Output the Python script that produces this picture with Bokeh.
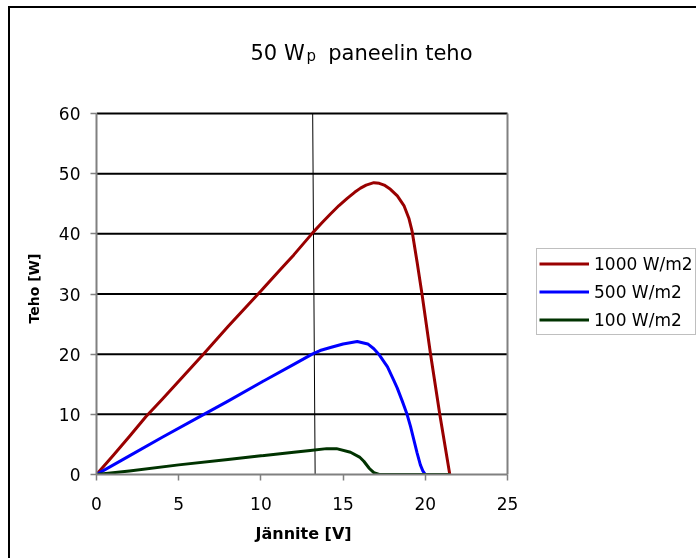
from bokeh.plotting import figure
from bokeh.models import Range1d, FixedTicker, Legend, LegendItem, Title, Label
from bokeh.embed import file_html
from bokeh.resources import INLINE

# ---- data ----
v_1000 = [0, 1, 2, 3, 4, 5, 6, 6.5, 8, 10, 11.2, 12, 13.16, 13.7, 14.23, 14.75, 15.25, 15.7, 16.06, 16.4, 16.87, 17.2, 17.5, 17.88, 18.3, 18.7, 19.0, 19.2, 19.5, 19.81, 20.32, 20.88, 21.49]
p_1000 = [0, 3.1, 6.3, 9.6, 12.5, 15.5, 18.5, 20, 24.6, 30.5, 34.1, 36.5, 40.2, 41.8, 43.3, 44.7, 45.9, 46.9, 47.6, 48.1, 48.5, 48.4, 48.1, 47.4, 46.3, 44.7, 42.6, 40.4, 35.3, 29.8, 20, 10, 0]

v_500 = [0, 2, 4, 6.53, 8, 10, 12, 13.12, 13.6, 14.23, 15, 15.86, 16.5, 16.87, 17.17, 17.7, 18.09, 18.29, 18.6, 18.89, 19.1, 19.3, 19.5, 19.7, 19.85, 20.0]
p_500 = [0, 3.1, 6.2, 10, 12.2, 15.3, 18.3, 20, 20.6, 21.1, 21.7, 22.1, 21.7, 20.9, 20.0, 17.9, 15.6, 14.4, 12.2, 10, 8, 5.8, 3.6, 1.6, 0.6, 0]

v_100 = [0, 2, 5, 8, 10, 12, 13, 14, 14.6, 15.45, 16, 16.26, 16.6, 16.87, 17.2, 18, 21.5]
p_100 = [0, 0.6, 1.6, 2.5, 3.1, 3.7, 4.0, 4.3, 4.3, 3.7, 2.9, 2.2, 1.0, 0.3, 0, 0, 0]

series_labels = ["1000 W/m2", "500 W/m2", "100 W/m2"]

marker_v = [13.15, 13.3]
marker_p = [60, -0.5]

x_ticks = [0, 5, 10, 15, 20, 25]
y_ticks = [0, 10, 20, 30, 40, 50, 60]

FONT = "DejaVu Sans"

# ---- layout (pixels) ----
W, H = 688, 552            # canvas
LEFT, BOTTOM = 86, 86      # room for the axes
PLOT_W, PLOT_H = 411, 361  # size of the 0..25 x 0..60 plotting box
FRAME_W, FRAME_H = W - LEFT, H - BOTTOM
x_end = x_ticks[-1] * FRAME_W / PLOT_W
y_end = y_ticks[-1] * FRAME_H / PLOT_H

p = figure(width=W, height=H, x_range=Range1d(0, x_end), y_range=Range1d(0, y_end),
           output_backend="svg", toolbar_location=None,
           min_border_left=LEFT, min_border_right=0, min_border_top=0, min_border_bottom=BOTTOM)
p.title = None
p.styles = {"position": "fixed", "left": "10px", "top": "8px",
            "box-shadow": "-2px -2px 0px 0px black"}
p.outline_line_color = None
p.background_fill_color = "white"
p.border_fill_color = "white"
p.xgrid.visible = False
p.ygrid.visible = False

for ax, ticks in ((p.xaxis[0], x_ticks), (p.yaxis[0], y_ticks)):
    ax.ticker = FixedTicker(ticks=ticks)
    ax.bounds = (ticks[0], ticks[-1])
    ax.axis_line_color = "#808080"
    ax.axis_line_width = 2
    ax.major_tick_line_color = "#808080"
    ax.major_tick_line_width = 1.5
    ax.major_tick_out = 6
    ax.major_tick_in = 0
    ax.minor_tick_line_color = None
    ax.major_label_text_font = FONT
    ax.major_label_text_font_size = "17px"
    ax.major_label_text_color = "black"
p.yaxis.major_label_standoff = 10
p.xaxis.major_label_standoff = 16

# axis titles
p.add_layout(Title(text="Jännite [V]", align="left", offset=159, vertical_align="top",
                   standoff=22, text_font=FONT, text_font_size="16px",
                   text_font_style="bold", text_color="black"), "below")
p.add_layout(Title(text="Teho [W]", align="left", offset=151, vertical_align="bottom",
                   standoff=27, text_font=FONT, text_font_size="14px",
                   text_font_style="bold", text_color="black"), "left")

# horizontal grid lines and right border of the plotting box
p.segment(x0=x_ticks[0], x1=x_ticks[-1], y0=y_ticks[1:], y1=y_ticks[1:],
          line_color="black", line_width=2)
p.segment(x0=x_ticks[-1], x1=x_ticks[-1], y0=y_ticks[0], y1=y_ticks[-1],
          line_color="#808080", line_width=2)

p.line(marker_v, marker_p, line_color="black", line_width=1)

r1 = p.line(v_1000, p_1000, line_color="#990000", line_width=3, line_join="round")
r2 = p.line(v_500, p_500, line_color="#0000ff", line_width=3, line_join="round")
r3 = p.line(v_100, p_100, line_color="#003300", line_width=3, line_join="round")

legend = Legend(items=[LegendItem(label=series_labels[0], renderers=[r1]),
                       LegendItem(label=series_labels[1], renderers=[r2]),
                       LegendItem(label=series_labels[2], renderers=[r3])],
                location=(440, 139), border_line_color="#808080", border_line_width=1,
                background_fill_color="white", glyph_width=50, glyph_height=25,
                label_height=25, spacing=3, padding=2, label_standoff=5,
                label_text_font_size="17px", label_text_font=FONT,
                label_text_color="black", margin=0)
p.add_layout(legend)

# chart title with subscript p
for txt, tx, ty, size in (("50 W", 154, 422, "21px"), ("p", 210, 419, "15px"),
                          ("paneelin teho", 231.7, 422, "21px")):
    p.add_layout(Label(x=tx, y=ty, x_units="screen", y_units="screen", text=txt,
                       text_font=FONT, text_font_size=size, text_color="black",
                       text_baseline="alphabetic", text_align="left"))

open("out.html", "w").write(file_html(p, INLINE))
